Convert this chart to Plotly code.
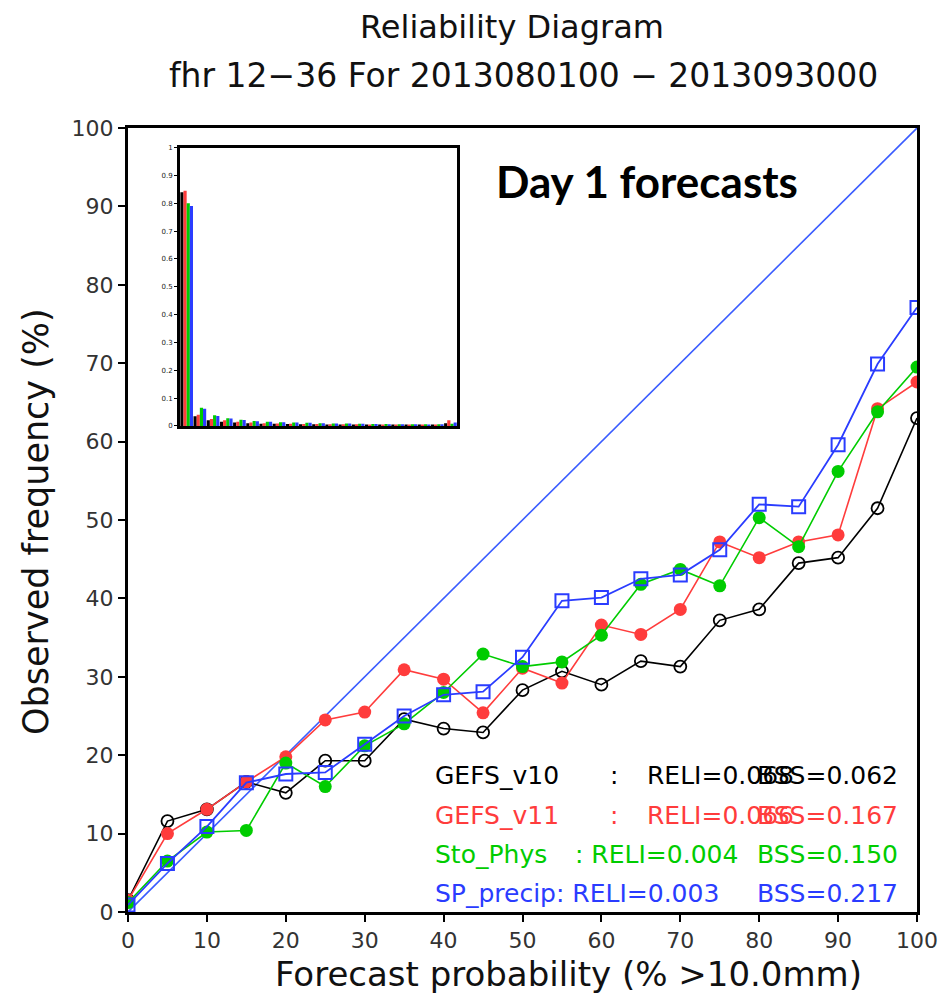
import plotly.graph_objects as go

# ---------------- data ----------------
prob = [0, 5, 10, 15, 20, 25, 30, 35, 40, 45, 50, 55, 60, 65, 70, 75, 80, 85, 90, 95, 100]

gefs_v10 = [1.5, 11.6, 13.1, 16.6, 15.2, 19.3, 19.3, 24.6, 23.4, 22.9, 28.3, 30.7, 29.0, 32.0, 31.3, 37.2, 38.6, 44.5, 45.2, 51.5, 63.0]
gefs_v11 = [1.5, 10.0, 13.1, 16.6, 19.8, 24.5, 25.5, 30.9, 29.7, 25.4, 31.1, 29.2, 36.6, 35.4, 38.6, 47.2, 45.2, 47.2, 48.1, 64.2, 67.6]
sto_phys = [1.2, 6.5, 10.2, 10.4, 19.0, 16.0, 21.2, 24.0, 28.0, 32.9, 31.3, 31.9, 35.3, 41.8, 43.7, 41.6, 50.3, 46.6, 56.2, 63.8, 69.5]
sp_precip = [0.9, 6.2, 10.9, 16.5, 17.6, 17.8, 21.4, 25.0, 27.7, 28.1, 32.5, 39.7, 40.1, 42.5, 43.0, 46.2, 52.0, 51.7, 59.6, 69.9, 77.1]

# inset histogram (relative frequency of forecasts per probability bin)
bins = list(range(21))
hist_v10 = [0.840, 0.035, 0.020, 0.015, 0.012, 0.010, 0.008, 0.008, 0.007, 0.006, 0.006, 0.005, 0.005, 0.005, 0.004, 0.004, 0.004, 0.004, 0.004, 0.004, 0.010]
hist_v11 = [0.845, 0.040, 0.025, 0.020, 0.015, 0.012, 0.010, 0.009, 0.008, 0.007, 0.007, 0.006, 0.006, 0.006, 0.005, 0.005, 0.005, 0.005, 0.005, 0.005, 0.020]
hist_sto = [0.800, 0.065, 0.038, 0.028, 0.022, 0.018, 0.015, 0.013, 0.012, 0.011, 0.010, 0.009, 0.009, 0.008, 0.007, 0.007, 0.006, 0.006, 0.006, 0.006, 0.008]
hist_sp = [0.790, 0.062, 0.036, 0.027, 0.021, 0.017, 0.015, 0.013, 0.012, 0.011, 0.010, 0.009, 0.009, 0.008, 0.007, 0.006, 0.006, 0.006, 0.005, 0.006, 0.012]

diag = [0, 100]
main_ticks = [0, 10, 20, 30, 40, 50, 60, 70, 80, 90, 100]
inset_ticks = [0, 0.1, 0.2, 0.3, 0.4, 0.5, 0.6, 0.7, 0.8, 0.9, 1]
inset_labels = ["0", "0.1", "0.2", "0.3", "0.4", "0.5", "0.6", "0.7", "0.8", "0.9", "1"]

BLACK = "#000000"
RED = "#ff3c3c"
GREEN = "#00cc00"
BLUE = "#2a3cff"
FONT = "DejaVu Sans"

fig = go.Figure()

fig.add_trace(go.Scatter(x=diag, y=diag, mode="lines", line=dict(color="#3a5cff", width=1.6),
                         hoverinfo="skip", showlegend=False))

fig.add_trace(go.Scatter(x=prob, y=gefs_v10, mode="lines+markers", name="GEFS_v10",
                         line=dict(color=BLACK, width=1.6),
                         marker=dict(symbol="circle-open", size=12, color=BLACK, line=dict(width=1.8))))
fig.add_trace(go.Scatter(x=prob, y=gefs_v11, mode="lines+markers", name="GEFS_v11",
                         line=dict(color=RED, width=1.6),
                         marker=dict(symbol="circle", size=13, color=RED)))
fig.add_trace(go.Scatter(x=prob, y=sto_phys, mode="lines+markers", name="Sto_Phys",
                         line=dict(color=GREEN, width=1.6),
                         marker=dict(symbol="circle", size=13, color=GREEN)))
fig.add_trace(go.Scatter(x=prob, y=sp_precip, mode="lines+markers", name="SP_precip",
                         line=dict(color=BLUE, width=1.8),
                         marker=dict(symbol="square-open", size=13, color=BLUE, line=dict(width=2))))

# inset bars
for vals, col in [(hist_v10, BLACK), (hist_v11, RED), (hist_sto, GREEN), (hist_sp, BLUE)]:
    fig.add_trace(go.Bar(x=bins, y=vals, xaxis="x2", yaxis="y2", marker=dict(color=col, line=dict(width=0)),
                         showlegend=False, hoverinfo="skip"))

# the page body has an 8 px margin, so the figure is offset by 8 px
OFF = 8
fig.update_layout(
    width=949, height=997,
    margin=dict(l=128 - OFF, r=32 + OFF, t=128 - OFF, b=85 + OFF, autoexpand=False),
    paper_bgcolor="white", plot_bgcolor="white",
    showlegend=False,
    barmode="group", bargap=0.04, bargroupgap=0.0,
    font=dict(family=FONT, color="#222222"),
    xaxis=dict(range=[0, 100], tickvals=main_ticks, ticks="outside", ticklen=7, tickwidth=2, tickcolor="black",
               showgrid=False, zeroline=False, showline=True, linecolor="black", linewidth=3, mirror=True,
               automargin=False, tickfont=dict(size=22, family=FONT, color="#333333")),
    yaxis=dict(range=[0, 100], tickvals=main_ticks, ticks="outside", ticklen=7, tickwidth=2, tickcolor="black",
               showgrid=False, zeroline=False, showline=True, linecolor="black", linewidth=3, mirror=True,
               automargin=False, tickfont=dict(size=22, family=FONT, color="#333333")),
    xaxis2=dict(domain=[0.066, 0.417], anchor="y2", range=[-0.5, 20.5], showticklabels=False, ticks="",
                showgrid=False, zeroline=False, showline=True, linecolor="black", linewidth=3, mirror=True,
                automargin=False),
    yaxis2=dict(domain=[0.62, 0.975], anchor="x2", range=[0, 1], tickvals=inset_ticks, ticktext=inset_labels,
                ticks="outside", ticklen=3, tickwidth=1, tickcolor="black", automargin=False,
                tickfont=dict(size=7, family=FONT, color="#222222"),
                showgrid=False, zeroline=False, showline=True, linecolor="black", linewidth=3, mirror=True),
)


def px(xp):
    return (xp - 128) / 789


def py(yp):
    return (912 - yp) / 784


ann = []
# titles
ann.append(dict(text="Reliability Diagram", x=px(512), y=py(27), xref="paper", yref="paper",
                showarrow=False, xanchor="center", yanchor="middle", font=dict(size=32, family=FONT, color="#111111")))
ann.append(dict(text="fhr 12\u221236 For 2013080100 \u2212 2013093000", x=px(523), y=py(76),
                xref="paper", yref="paper", showarrow=False, xanchor="center", yanchor="middle",
                font=dict(size=33, family=FONT, color="#111111")))
ann.append(dict(text="<b>Day 1 forecasts</b>", x=px(647), y=py(181), xref="paper", yref="paper",
                showarrow=False, xanchor="center", yanchor="middle", font=dict(size=44, family="Lato", color="black")))
# axis titles
ann.append(dict(text="Forecast probability (% >10.0mm)", x=px(568), y=py(974), xref="paper", yref="paper",
                showarrow=False, xanchor="center", yanchor="middle", font=dict(size=34, family=FONT, color="#111111")))
ann.append(dict(text="Observed frequency (%)", x=px(36), y=py(522), xref="paper", yref="paper", textangle=-90,
                showarrow=False, xanchor="center", yanchor="middle", font=dict(size=35, family=FONT, color="#111111")))

rows = [
    (775, BLACK, "GEFS_v10", 433, ":", 608, "RELI=0.068", 645, "BSS=0.062", 755),
    (815, RED, "GEFS_v11", 433, ":", 608, "RELI=0.066", 645, "BSS=0.167", 755),
    (854, GREEN, "Sto_Phys", 433, ": RELI=0.004", 573, None, None, "BSS=0.150", 755),
    (893, BLUE, "SP_precip: RELI=0.003", 433, None, None, None, None, "BSS=0.217", 755),
]
for yp, col, t1, x1, t2, x2, t3, x3, t4, x4 in rows:
    for t, xx in [(t1, x1), (t2, x2), (t3, x3), (t4, x4)]:
        if t is None:
            continue
        ann.append(dict(text=t, x=px(xx), y=py(yp), xref="paper", yref="paper", showarrow=False,
                        xanchor="left", yanchor="middle", font=dict(size=25, family=FONT, color=col)))

fig.update_layout(annotations=ann)

fig.write_html("out.html")
